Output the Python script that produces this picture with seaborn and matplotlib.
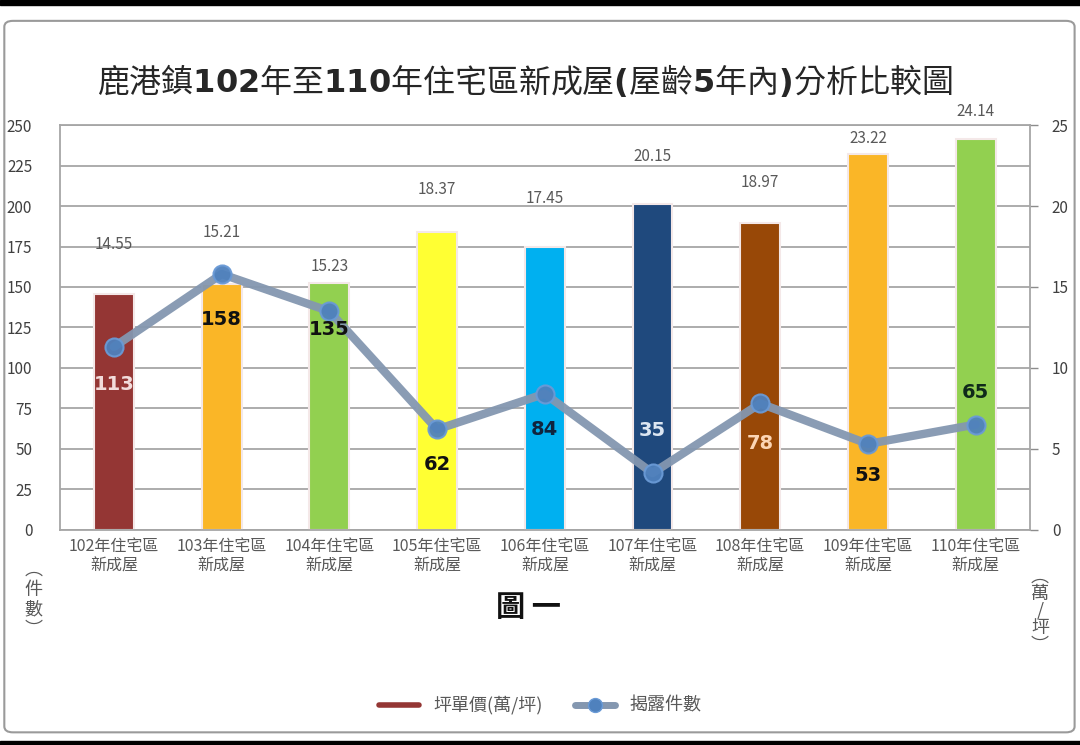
import matplotlib
matplotlib.use("Agg")
import matplotlib.pyplot as plt
import seaborn as sns
import pandas as pd
from matplotlib.lines import Line2D
from matplotlib.patches import Rectangle, FancyBboxPatch
from matplotlib.ticker import MultipleLocator

sns.set_theme(style="white")
plt.rcParams['font.family'] = ['Noto Sans CJK TC', 'DejaVu Sans']
plt.rcParams['mathtext.fontset'] = 'custom'
plt.rcParams['mathtext.bf'] = 'DejaVu Sans:bold'
plt.rcParams['mathtext.rm'] = 'DejaVu Sans'

# data
years = ['102', '103', '104', '105', '106', '107', '108', '109', '110']
categories = [y + '年住宅區\n新成屋' for y in years]
price = [14.55, 15.21, 15.23, 18.37, 17.45, 20.15, 18.97, 23.22, 24.14]   # 萬/坪 (right axis)
counts = [113, 158, 135, 62, 84, 35, 78, 53, 65]                          # 件數 (left axis)

bar_colors = ['#943634', '#FAB627', '#92D050', '#FFFF33', '#00B0F0',
              '#1F497D', '#984807', '#FAB627', '#92D050']
count_label_colors = ['#F2DCDB', '#111111', '#111111', '#111111', '#10243E',
                      '#DCE6F2', '#FCD5B4', '#111111', '#0F2A1A']
count_label_offsets = [-27, -33, -13, -25, -26, 31, -29, -23, 23]
price_label_offsets = [36, 37, 12, 31, 35, 34, 29, 11, 20]

df = pd.DataFrame({'cat': categories, 'price': price, 'count': counts})

fig = plt.figure(figsize=(10.8, 7.45), dpi=100)
ax = fig.add_axes([0.0556, 0.289, 0.8977, 0.543])

# bars -> right scale (萬/坪)
sns.barplot(data=df, x='cat', y='price', hue='cat', palette=bar_colors,
            legend=False, width=0.37, saturation=1, ax=ax, zorder=2,
            edgecolor='#F4E8E8', linewidth=1.5)
ax.set_ylim(0, 25)

# line -> left scale (件數)
ax2 = ax.twinx()
ax.yaxis.tick_right()
ax2.yaxis.tick_left()

ax.yaxis.set_major_locator(MultipleLocator(5))
ax.yaxis.set_minor_locator(MultipleLocator(2.5))
ax.grid(axis='y', which='both', color='#A6A6A6', linewidth=1.3, zorder=0)
ax.set_axisbelow(True)
ax.tick_params(axis='y', which='major', right=True, labelright=True,
               left=False, labelleft=False, length=6, width=1,
               color='#8C8C8C', labelsize=11, labelcolor='#404040', pad=10)
ax.tick_params(axis='y', which='minor', length=0)
ax.tick_params(axis='x', labelsize=11.5, labelcolor='#595959', pad=6, length=0)
ax.set_xlabel('')
ax.set_ylabel('')
for s in ax.spines.values():
    s.set_color('#A6A6A6')
    s.set_linewidth(1.3)

for i, v in enumerate(price):
    ax.annotate(f'{v:.2f}', (i, v), xytext=(0, price_label_offsets[i]),
                textcoords='offset points', ha='center', va='center',
                fontsize=11, color='#595959')

sns.lineplot(x=list(range(len(counts))), y=counts, ax=ax2, color='#8497B0',
             linewidth=6, alpha=0.95, marker='o', markersize=13,
             markerfacecolor='#4F81BD', markeredgecolor='#6A9AD6',
             markeredgewidth=1.5, zorder=3)
ax2.set_ylim(0, 250)
ax2.yaxis.set_major_locator(MultipleLocator(25))
ax2.tick_params(axis='y', left=False, right=False, labelleft=True,
                labelright=False, labelsize=11, labelcolor='#404040', pad=14)
ax2.set_ylabel('')
for s in ax2.spines.values():
    s.set_visible(False)

for i, v in enumerate(counts):
    ax2.annotate(str(v), (i, v), xytext=(0, count_label_offsets[i]),
                 textcoords='offset points', ha='center', va='center',
                 fontsize=14, fontweight='bold', color=count_label_colors[i],
                 family='DejaVu Sans')

ax.set_xlim(-0.5, len(categories) - 0.5)

# titles and axis unit labels
title = (r'鹿港鎮$\mathbf{102}$年至$\mathbf{110}$年住宅區新成屋'
         r'$\mathbf{(}$屋齡$\mathbf{5}$年內$\mathbf{)}$分析比較圖')
fig.text(0.486, 0.892, title, ha='center', va='center', fontsize=23,
         color='#262626')
fig.text(0.489, 0.185, '圖 一', ha='center', va='center', fontsize=21,
         fontweight='bold', color='#111111')
fig.text(0.031, 0.195, '︵\n件\n數\n︶', ha='center', va='center', fontsize=13,
         color='#595959', linespacing=1.15)
fig.text(0.963, 0.18, '︵\n萬\n/\n坪\n︶', ha='center', va='center', fontsize=13,
         color='#595959', linespacing=0.95)

handles = [Line2D([], [], color='#943634', linewidth=4),
           Line2D([], [], color='#8497B0', linewidth=5, marker='o', markersize=10,
                  markerfacecolor='#4F81BD', markeredgecolor='#6A9AD6')]
fig.legend(handles, ['坪單價(萬/坪)', '揭露件數'], loc='center',
           bbox_to_anchor=(0.5, 0.053), ncol=2, frameon=False, fontsize=13,
           labelcolor='#595959', handlelength=2.2, columnspacing=1.8)

# frame decorations
fig.patches.append(FancyBboxPatch((0.004, 0.017), 0.991, 0.955,
                                  boxstyle='round,pad=0,rounding_size=0.008',
                                  transform=fig.transFigure, fill=False,
                                  edgecolor='#9A9A9A', linewidth=1.5))
fig.patches.append(Rectangle((0, 0.993), 1, 0.007, transform=fig.transFigure,
                             color='black'))
fig.patches.append(Rectangle((0, 0), 1, 0.006, transform=fig.transFigure,
                             color='black'))

fig.savefig('out.png', dpi=100)
